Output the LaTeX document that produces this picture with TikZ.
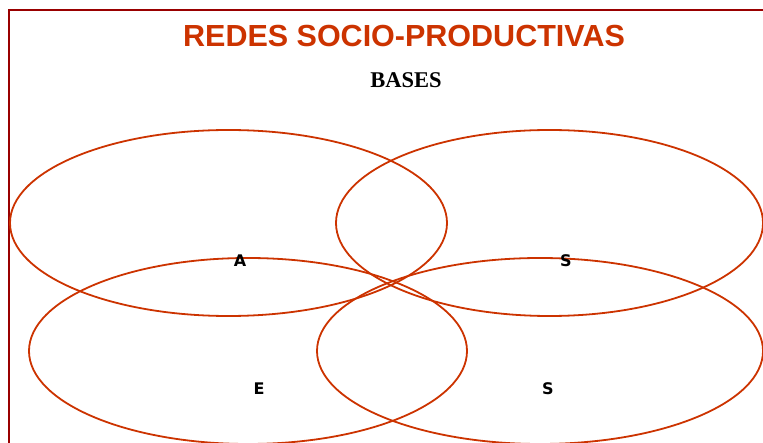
\documentclass[tikz,border=0pt]{standalone}
\usepackage{fontspec}
\setmainfont{Liberation Sans}
\newfontfamily\basesfont{Liberation Serif}
\newfontfamily\letterfont{DejaVu Sans}
\usepackage{xcolor}
\usetikzlibrary{positioning}
\definecolor{redorange}{HTML}{CC3300}
\definecolor{framered}{HTML}{990000}
\tikzset{
  ring/.style={draw=redorange,line width=1.8pt},
  letter/.style={font=\fontsize{16}{16}\selectfont\letterfont\bfseries,inner sep=0pt}
}

\begin{document}
\begin{tikzpicture}[x=1pt,y=-1pt]
  \useasboundingbox (0,0) rectangle (763,443);
  \draw[framered,line width=2.2pt] (8.8,443) -- (8.8,10) -- (763,10);

  \node[font=\fontsize{30.5}{30.5}\selectfont\bfseries,text=redorange] (title) at (404,36) {REDES SOCIO-PRODUCTIVAS};
  \node[font=\fontsize{22.5}{22.5}\selectfont\basesfont\bfseries] (bases) at (406,80) {BASES};

  \draw[ring] (228.5,223) ellipse [x radius=218.5,y radius=93];
  \draw[ring] (549.5,223) ellipse [x radius=213.5,y radius=93];
  \draw[ring] (248,351) ellipse [x radius=219,y radius=93];
  \draw[ring] (540,351) ellipse [x radius=223,y radius=93];

  \node[letter] (ca) at (240,261) {A};
  \node[letter] (cs) at (566,261) {S};
  \node[letter] (ce) at (259,389) {E};
  \node[letter] (cs2) at (548,389) {S};
\end{tikzpicture}
\end{document}
